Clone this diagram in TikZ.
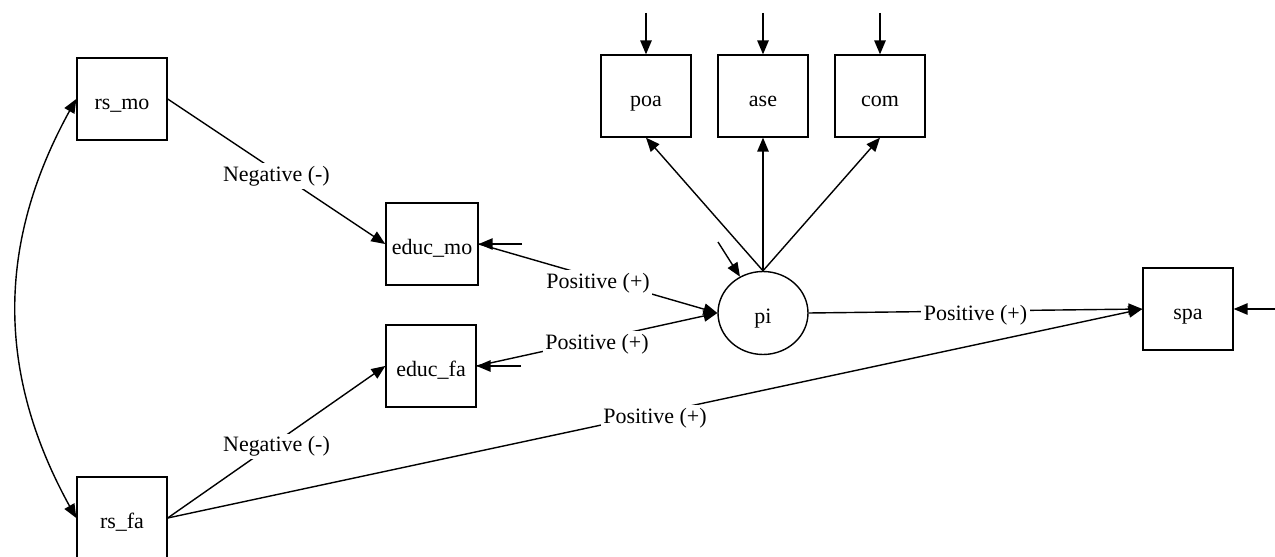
\documentclass[tikz,border=0pt]{standalone}
\usepackage{fontspec}
\setmainfont{Liberation Serif}
\usetikzlibrary{shapes,arrows}

\begin{document}
\begin{tikzpicture}[x=0.02cm, y=-0.02cm, >=triangle 45, line width=0.8pt,
  every node/.style={font=\fontsize{12.5}{15}\selectfont},
  obs/.style={draw, rectangle, minimum width=1.8cm, minimum height=1.64cm,
    text height=12.4pt, text depth=0pt},
  latent/.style={draw, ellipse, minimum width=1.8cm, minimum height=1.66cm,
    text height=12.4pt, text depth=0pt},
  lab/.style={midway, fill=white, inner sep=1.5pt, yshift=-2.5pt}]
  \useasboundingbox (0,0) rectangle (1275,557);

  \node[obs] (rsmo) at (122,99) {rs\_mo};
  \node[obs] (rsfa) at (122,518) {rs\_fa};
  \node[obs] (educmo) at (432,244) {educ\_mo};
  \node[obs] (educfa) at (431,366) {educ\_fa};
  \node[latent] (pi) at (763,313) {pi};
  \node[obs] (poa) at (646,96) {poa};
  \node[obs] (ase) at (763,96) {ase};
  \node[obs] (com) at (880,96) {com};
  \node[obs] (spa) at (1188,309) {spa};

  \coordinate (poa-e) at (646,13);
  \coordinate (ase-e) at (763,13);
  \coordinate (com-e) at (880,13);
  \coordinate (pi-e) at (718,242);
  \coordinate (educmo-e) at (522,244);
  \coordinate (educfa-e) at (521,366);
  \coordinate (spa-e) at (1275,309);

  \draw[<->] (rsmo.west) to[bend right=30] (rsfa.west);
  \draw[->] (rsmo.east) -- node[lab] {Negative (-)} (educmo.west);
  \draw[->] (rsfa.east) -- node[lab] {Negative (-)} (educfa.west);
  \draw[->] (educmo.east) -- node[lab] {Positive (+)} (pi.west);
  \draw[->] (educfa.east) -- node[lab] {Positive (+)} (pi.west);
  \draw[->] (pi.east) -- node[lab] {Positive (+)} (spa.west);
  \draw[->] (rsfa.east) -- node[lab] {Positive (+)} (spa.west);
  \draw[->] (pi.north) -- (poa.south);
  \draw[->] (pi.north) -- (ase.south);
  \draw[->] (pi.north) -- (com.south);

  \draw[->] (poa-e) -- (poa);
  \draw[->] (ase-e) -- (ase);
  \draw[->] (com-e) -- (com);
  \draw[->] (pi-e) -- (pi);
  \draw[->] (educmo-e) -- (educmo);
  \draw[->] (educfa-e) -- (educfa);
  \draw[->] (spa-e) -- (spa);
\end{tikzpicture}
\end{document}
